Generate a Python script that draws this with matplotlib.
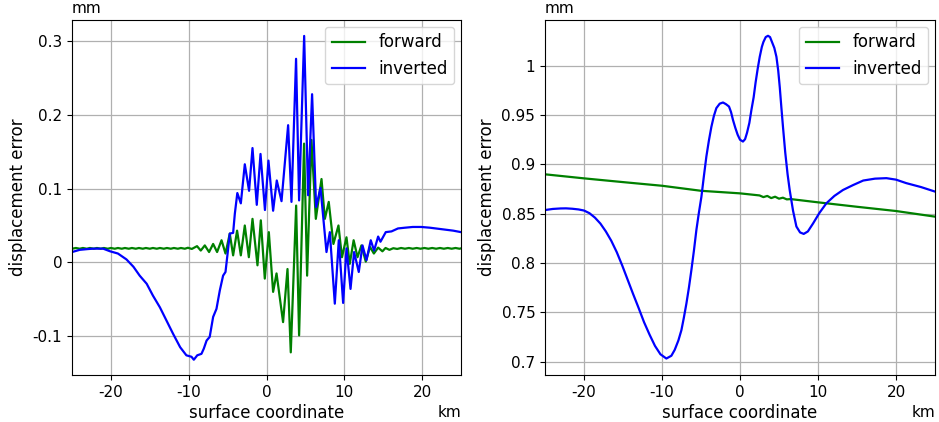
import numpy as np
import matplotlib
matplotlib.use('Agg')
import matplotlib.pyplot as plt
from matplotlib.ticker import FuncFormatter

plt.rcParams['axes.unicode_minus'] = False

# left panel: forward model (green)
fwd_x = [-25.0, -24.5, -24.0, -23.6, -23.1, -22.7, -22.2, -21.8, -21.3, -20.9, -20.4, -20.0,
         -19.5, -19.1, -18.6, -18.2, -17.7, -17.3, -16.8, -16.4, -15.9, -15.5, -15.0, -14.6,
         -14.1, -13.7, -13.2, -12.8, -12.3, -11.9, -11.4, -11.0, -10.5, -10.1, -9.6,
         -8.93, -8.45, -7.93, -7.38, -6.86, -6.35, -5.78, -5.27, -4.72, -4.29, -3.78, -3.3,
         -2.79, -2.27, -1.80, -1.16, -0.73, -0.22, 0.30, 0.85, 1.29, 2.13, 2.70, 3.12, 3.81,
         4.19, 4.83, 5.22, 5.78, 6.34, 7.07, 7.5, 8.0, 8.6, 9.25, 9.7, 10.28, 10.7, 11.2, 11.7,
         12.2, 12.76, 13.3, 13.8, 14.35, 14.9, 15.3, 15.8, 16.3, 16.8, 17.3, 17.8, 18.3, 18.8,
         19.3, 19.8, 20.3, 20.8, 21.3, 21.8, 22.3, 22.8, 23.3, 23.8, 24.3, 24.8, 25.0]
fwd_y = [0.0185, 0.0195, 0.0185, 0.0195, 0.0185, 0.0195, 0.0185, 0.0195, 0.0185, 0.0195, 0.0185, 0.0195,
         0.0185, 0.0195, 0.0185, 0.0195, 0.0185, 0.0195, 0.0185, 0.0195, 0.0185, 0.0195, 0.0185, 0.0195,
         0.0185, 0.0195, 0.0185, 0.0195, 0.0185, 0.0195, 0.0185, 0.0195, 0.0185, 0.0198, 0.0182,
         0.022, 0.016, 0.023, 0.014, 0.025, 0.014, 0.030, 0.012, 0.039, 0.0095, 0.043, 0.0095,
         0.050, 0.007, 0.059, -0.004, 0.057, -0.022, 0.041, -0.040, -0.015, -0.081, -0.009, -0.122, 0.077,
         -0.099, 0.161, -0.018, 0.166, 0.059, 0.113, 0.059, 0.082, 0.025, 0.050, 0.007, 0.034, -0.002, 0.030, 0.007,
         0.023, 0.001, 0.021, 0.012, 0.020, 0.015, 0.0195, 0.017, 0.0192, 0.0182, 0.0195, 0.0185, 0.0195, 0.0185,
         0.0195, 0.0185, 0.0195, 0.0185, 0.0195, 0.0185, 0.0195, 0.0185, 0.0195, 0.0185, 0.0195, 0.0185, 0.019]

# left panel: inverted model (blue)
inv_x = [-25.0, -24.0, -23.0, -22.3, -21.0, -20.1, -19.1, -18.0, -17.1, -16.3, -15.4, -14.6, -13.7,
         -12.85, -12.0, -11.1, -10.3, -9.64, -9.34, -8.9, -8.36, -8.06, -7.7, -7.3, -6.86, -6.43,
         -6.0, -5.58, -5.27, -5.0, -4.72, -4.29, -4.07, -3.75, -3.3, -2.79, -2.24, -1.8, -1.25,
         -0.77, -0.2, 0.25, 0.85, 1.32, 1.93, 2.78, 3.21, 3.80, 4.19, 4.84, 5.35, 5.86, 6.38, 6.94,
         7.71, 8.14, 8.78, 9.29, 9.85, 10.28, 10.8, 11.26, 11.86, 12.34, 12.85, 13.4, 13.83, 14.35,
         14.65, 15.33, 16.07, 16.9, 17.8, 18.8, 19.9, 21.0, 22.5, 24.0, 25.0]
inv_y = [0.014, 0.017, 0.018, 0.0186, 0.0186, 0.015, 0.012, 0.004, -0.006, -0.018, -0.029, -0.045, -0.061,
         -0.079, -0.097, -0.115, -0.126, -0.128, -0.132, -0.126, -0.124, -0.117, -0.106, -0.101, -0.074, -0.063,
         -0.038, -0.018, -0.013, 0.012, 0.039, 0.040, 0.066, 0.094, 0.080, 0.133, 0.097, 0.155, 0.078,
         0.147, 0.071, 0.138, 0.070, 0.111, 0.083, 0.186, 0.082, 0.276, 0.084, 0.307, 0.091, 0.228, 0.075, 0.101,
         0.014, 0.041, -0.056, 0.030, -0.055, 0.019, -0.036, 0.014, -0.013, 0.023, 0.003, 0.030, 0.016, 0.035,
         0.028, 0.041, 0.042, 0.046, 0.047, 0.048, 0.048, 0.047, 0.045, 0.043, 0.041]

# right panel: forward model (green)
fwd2_x = [-25, -20, -15, -10, -5, 0, 2.5, 3.0, 3.5, 4.0, 4.5, 5.0, 5.5, 6.0, 6.5, 10, 15, 20, 25]
fwd2_y = [0.8899, 0.8858, 0.882, 0.8783, 0.8732, 0.8706, 0.8685, 0.8668, 0.868, 0.8658, 0.8672,
          0.8652, 0.8662, 0.8645, 0.8648, 0.8615, 0.857, 0.8527, 0.847]

# right panel: inverted model (blue)
inv2_x = [-25.0, -24.0, -23.0, -22.3, -21.5, -20.7, -20.0, -19.3, -18.6, -17.9, -17.2, -16.5,
          -15.8, -15.1, -14.4, -13.7, -13.0, -12.3, -11.6, -10.9, -10.2, -9.44, -8.8, -8.37,
          -7.9, -7.51, -7.2, -6.87, -6.55, -6.23, -5.9, -5.59, -5.27, -4.95, -4.63, -4.31,
          -3.99, -3.67, -3.35, -3.03, -2.6, -2.18, -1.8, -1.41, -1.15, -0.9, -0.6, -0.3, 0.0,
          0.38, 0.65, 0.9, 1.2, 1.46, 1.75, 2.0, 2.27, 2.53, 2.8, 3.0, 3.3, 3.59, 3.85, 4.1,
          4.4, 4.67, 4.9, 5.1, 5.3, 5.51, 5.8, 6.1, 6.37, 6.8, 7.23, 7.7, 8.17, 8.7, 9.36,
          10.2, 11.08, 12.1, 13.2, 14.5, 15.8, 17.3, 18.77, 20.0, 21.3, 23.2, 25.0]
inv2_y = [0.8537, 0.8548, 0.8553, 0.8554, 0.8550, 0.8543, 0.8532, 0.8505, 0.8460, 0.8400, 0.8320, 0.8225,
          0.8110, 0.7975, 0.7830, 0.7685, 0.7545, 0.7400, 0.7275, 0.7160, 0.7075, 0.7032, 0.7060, 0.712,
          0.7215, 0.732, 0.7445, 0.759, 0.775, 0.793, 0.813, 0.8336, 0.851, 0.867, 0.888, 0.908,
          0.924, 0.938, 0.949, 0.957, 0.9615, 0.9627, 0.961, 0.9586, 0.953, 0.945, 0.937, 0.930, 0.925,
          0.9231, 0.9255, 0.932, 0.942, 0.955, 0.968, 0.983, 0.997, 1.009, 1.019, 1.024, 1.029, 1.0303, 1.029, 1.024,
          1.018, 1.009, 0.995, 0.978, 0.958, 0.938, 0.912, 0.890, 0.874, 0.853, 0.837, 0.831, 0.8295, 0.832, 0.840,
          0.851, 0.8606, 0.868, 0.874, 0.879, 0.8836, 0.8855, 0.886, 0.8845, 0.881, 0.8770, 0.8724]

fig = plt.figure(figsize=(9.39, 4.22), dpi=100)
ax1 = fig.add_axes([72/939, 47/422, 389/939, 355/422])
ax2 = fig.add_axes([545/939, 47/422, 390/939, 355/422])

gfmt = FuncFormatter(lambda v, p: '%g' % round(v, 6))

for ax, xf, yf, xi, yi, ylim in [(ax1, fwd_x, fwd_y, inv_x, inv_y, (-0.1527, 0.3286)),
                                 (ax2, fwd2_x, fwd2_y, inv2_x, inv2_y, (0.6865, 1.0463))]:
    ax.plot(xf, yf, color='green', lw=1.6, label='forward')
    ax.plot(xi, yi, color='blue', lw=1.6, label='inverted')
    ax.set_xlim(-25, 25)
    ax.set_ylim(*ylim)
    ax.grid(which='major', axis='both', color='#b0b0b0', lw=0.9)
    ax.set_axisbelow(True)
    ax.set_xticks([-20, -10, 0, 10, 20])
    ax.xaxis.set_major_formatter(gfmt)
    ax.yaxis.set_major_formatter(gfmt)
    ax.tick_params(labelsize=11)
    ax.set_xlabel('surface coordinate', fontsize=12, labelpad=3)
    ax.set_ylabel('displacement error', fontsize=12, labelpad=4)
    ax.text(0.0, 1.01, 'mm', transform=ax.transAxes, fontsize=11, ha='left', va='bottom')
    ax.text(1.0, -0.085, 'km', transform=ax.transAxes, fontsize=11, ha='right', va='top')
    ax.legend(loc='upper right', fontsize=12, handlelength=2.0, borderaxespad=0.4)

ax1.set_yticks([-0.1, 0, 0.1, 0.2, 0.3])
ax2.set_yticks([0.7, 0.75, 0.8, 0.85, 0.9, 0.95, 1.0])

fig.savefig('out.png', dpi=100)
